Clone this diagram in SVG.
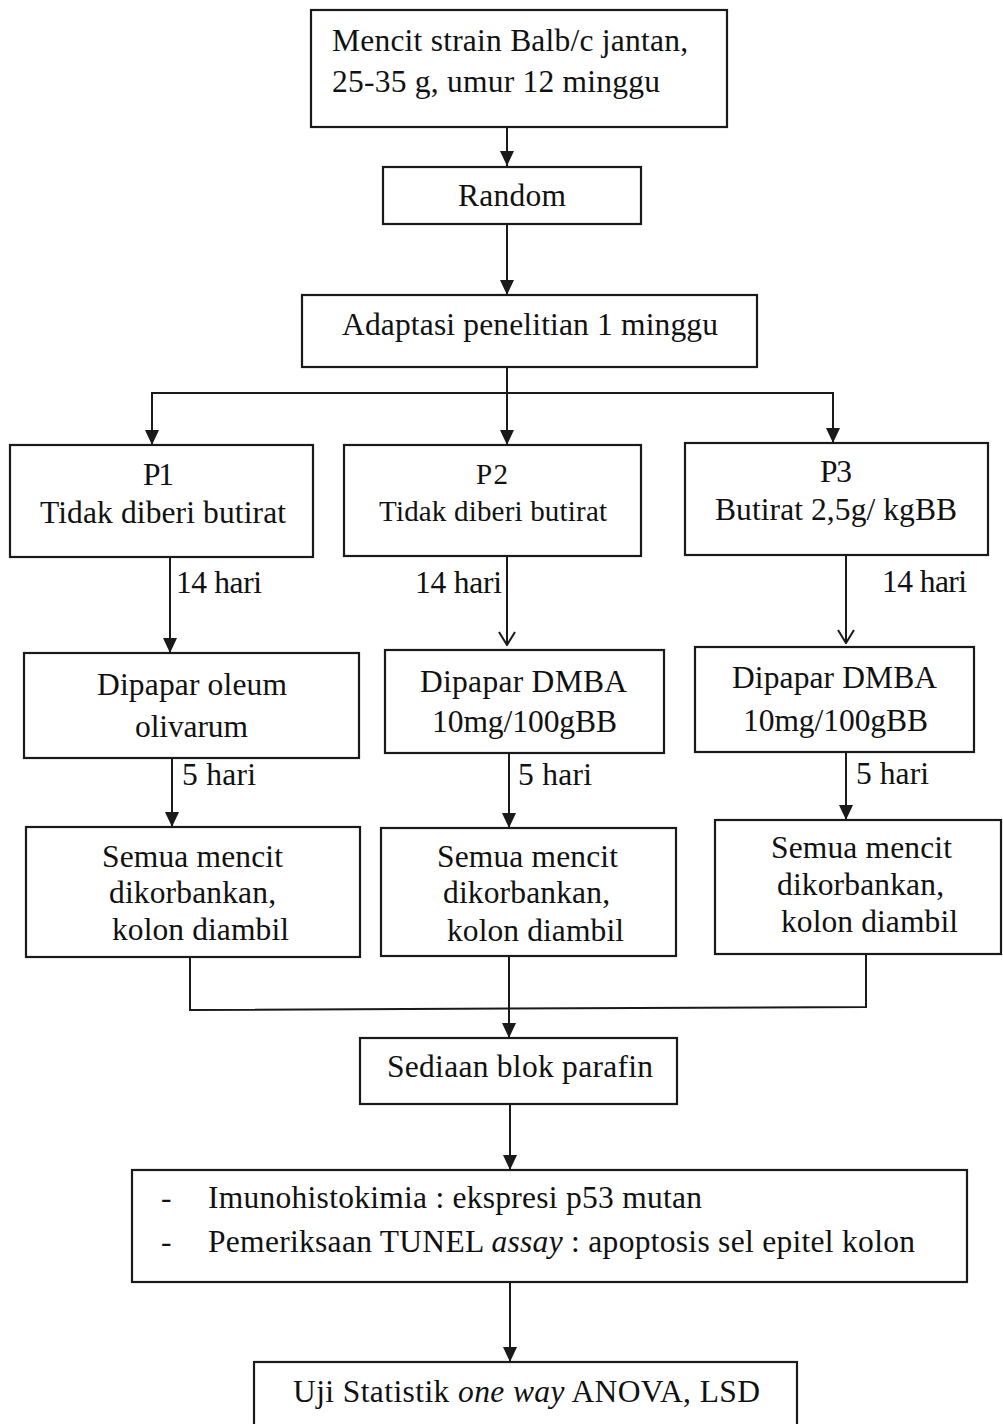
<svg xmlns="http://www.w3.org/2000/svg" width="1003" height="1424" viewBox="0 0 1003 1424">
<defs>
<style>
.box{fill:#fff;stroke:#1a1a1a;stroke-width:2.2}
.ln{fill:none;stroke:#1a1a1a;stroke-width:2}
text{font-family:"Liberation Serif","Times New Roman",serif;font-size:31.5px;fill:#111}
.sm{font-size:29px}
</style>
<marker id="af" viewBox="0 0 15 14" refX="15" refY="7" markerWidth="15" markerHeight="14" markerUnits="userSpaceOnUse" orient="auto">
<path d="M0,0 L15,7 L0,14 Z" fill="#1a1a1a"/>
</marker>
<marker id="ao" viewBox="0 0 20 20" refX="19" refY="10" markerWidth="20" markerHeight="20" markerUnits="userSpaceOnUse" orient="auto">
<path d="M6,2 L19,10 L6,18" fill="none" stroke="#1a1a1a" stroke-width="2"/>
</marker>
</defs>
<rect width="1003" height="1424" fill="#fff"/>

<g id="connectors">
<line class="ln" x1="507" y1="127" x2="507" y2="166" marker-end="url(#af)"/>
<line class="ln" x1="507" y1="224" x2="507" y2="295" marker-end="url(#af)"/>
<polyline class="ln" points="507,367 507,393"/>
<polyline class="ln" points="152,430 152,393 833,393 833,430"/>
<line class="ln" x1="152" y1="420" x2="152" y2="445" marker-end="url(#af)"/>
<line class="ln" x1="507" y1="393" x2="507" y2="445" marker-end="url(#af)"/>
<line class="ln" x1="833" y1="420" x2="833" y2="443" marker-end="url(#af)"/>
<line class="ln" x1="170" y1="557" x2="170" y2="653" marker-end="url(#af)"/>
<line class="ln" x1="507" y1="556" x2="507" y2="645" marker-end="url(#ao)"/>
<line class="ln" x1="846" y1="555" x2="846" y2="643" marker-end="url(#ao)"/>
<line class="ln" x1="172" y1="758" x2="172" y2="827" marker-end="url(#af)"/>
<line class="ln" x1="509" y1="753" x2="509" y2="828" marker-end="url(#af)"/>
<line class="ln" x1="846" y1="752" x2="846" y2="820" marker-end="url(#af)"/>
<polyline class="ln" points="190,957 190,1010 866,1007 866,954"/>
<line class="ln" x1="509" y1="956" x2="509" y2="1038" marker-end="url(#af)"/>
<line class="ln" x1="510" y1="1104" x2="510" y2="1170" marker-end="url(#af)"/>
<line class="ln" x1="510" y1="1282" x2="510" y2="1362" marker-end="url(#af)"/>
<text x="176" y="593" textLength="86">14 hari</text>
<text x="415" y="593" textLength="87">14 hari</text>
<text x="882" y="592" textLength="85">14 hari</text>
<text x="182" y="785" textLength="74">5 hari</text>
<text x="518" y="785" textLength="74">5 hari</text>
<text x="856" y="784" textLength="73">5 hari</text>
</g>

<g id="n-start">
<rect class="box" x="311" y="10" width="416" height="117"/>
<text x="332" y="51" textLength="356">Mencit strain Balb/c jantan,</text>
<text x="332" y="92" textLength="328">25-35 g, umur 12 minggu</text>
</g>
<g id="n-random">
<rect class="box" x="383" y="167" width="258" height="57"/>
<text x="458" y="206" textLength="108">Random</text>
</g>
<g id="n-adaptasi">
<rect class="box" x="302" y="295" width="455" height="72"/>
<text x="342" y="335" textLength="376">Adaptasi penelitian 1 minggu</text>
</g>
<g id="n-p1">
<rect class="box" x="10" y="445" width="303" height="112"/>
<text x="143" y="485" textLength="31">P1</text>
<text x="40" y="523" textLength="246">Tidak diberi butirat</text>
</g>
<g id="n-p2">
<rect class="box" x="344" y="445" width="297" height="111"/>
<text x="476" y="484" class="sm" textLength="32">P2</text>
<text x="379" y="521" class="sm" textLength="228">Tidak diberi butirat</text>
</g>
<g id="n-p3">
<rect class="box" x="685" y="443" width="303" height="112"/>
<text x="820" y="482" textLength="32">P3</text>
<text x="715" y="520" textLength="242">Butirat 2,5g/ kgBB</text>
</g>
<g id="n-p1-paparan">
<rect class="box" x="24" y="653" width="335" height="105"/>
<text x="97" y="695" textLength="190">Dipapar oleum</text>
<text x="135" y="737" textLength="113">olivarum</text>
</g>
<g id="n-p2-paparan">
<rect class="box" x="385" y="650" width="279" height="103"/>
<text x="420" y="692" textLength="207">Dipapar DMBA</text>
<text x="432" y="732" textLength="185">10mg/100gBB</text>
</g>
<g id="n-p3-paparan">
<rect class="box" x="695" y="647" width="279" height="105"/>
<text x="732" y="688" textLength="205">Dipapar DMBA</text>
<text x="743" y="731" textLength="185">10mg/100gBB</text>
</g>
<g id="n-p1-korban">
<rect class="box" x="26" y="827" width="334" height="130"/>
<text x="102" y="867" textLength="181">Semua mencit</text>
<text x="109" y="903" textLength="167">dikorbankan,</text>
<text x="112" y="940" textLength="177">kolon diambil</text>
</g>
<g id="n-p2-korban">
<rect class="box" x="381" y="828" width="295" height="128"/>
<text x="437" y="867" textLength="181">Semua mencit</text>
<text x="443" y="903" textLength="167">dikorbankan,</text>
<text x="447" y="941" textLength="177">kolon diambil</text>
</g>
<g id="n-p3-korban">
<rect class="box" x="715" y="820" width="286" height="134"/>
<text x="771" y="858" textLength="181">Semua mencit</text>
<text x="777" y="895" textLength="167">dikorbankan,</text>
<text x="781" y="932" textLength="177">kolon diambil</text>
</g>
<g id="n-sediaan">
<rect class="box" x="360" y="1038" width="317" height="66"/>
<text x="387" y="1077" textLength="266">Sediaan blok parafin</text>
</g>
<g id="n-pemeriksaan">
<rect class="box" x="132" y="1170" width="835" height="112"/>
<text x="161" y="1208">-</text>
<text x="208" y="1208" textLength="494">Imunohistokimia : ekspresi p53 mutan</text>
<text x="161" y="1252">-</text>
<text x="208" y="1252" textLength="707">Pemeriksaan TUNEL <tspan font-style="italic">assay</tspan> : apoptosis sel epitel kolon</text>
</g>
<g id="n-uji">
<rect class="box" x="254" y="1362" width="543" height="80"/>
<text x="293" y="1402" textLength="467">Uji Statistik <tspan font-style="italic">one way</tspan> ANOVA, LSD</text>
</g>
</svg>
